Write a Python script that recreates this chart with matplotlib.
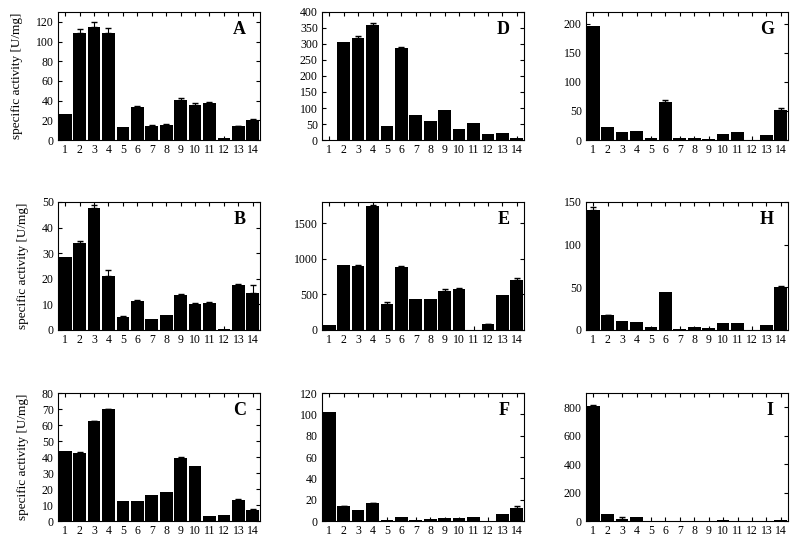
import numpy as np
import matplotlib
matplotlib.use("Agg")
import matplotlib.pyplot as plt

plt.rcParams["font.family"] = ["Liberation Serif", "DejaVu Serif"]

lanes = np.arange(1, 15)

# values (mean, error)
A = [26, 109, 115, 109, 13, 34, 14, 15.5, 41, 36, 38, 2, 14, 20]
A_err = [0, 4, 5, 5, 0, 1, 1, 0.5, 1.5, 1.5, 1, 0, 0.5, 1]
B = [28.5, 33.8, 47.5, 21, 5.2, 11.5, 4.4, 5.8, 13.6, 10.3, 10.5, 0.5, 17.6, 14.5]
B_err = [0, 1, 1.2, 2.5, 0.3, 0.3, 0, 0, 0.4, 0.4, 0.3, 0, 0.4, 3]
C = [44, 42.8, 62.3, 69.8, 12.8, 12.2, 16.5, 18, 39.2, 34.2, 3.3, 3.5, 13, 7]
C_err = [0, 0.4, 0.5, 0.5, 0, 0, 0, 0, 0.7, 0, 0, 0, 1, 0.5]
D = [1, 305, 318, 360, 45, 287, 78, 60, 93, 35, 52, 18, 22, 6]
D_err = [0, 0, 7, 5, 0, 4, 0, 0, 0, 0, 0, 0, 0, 0]
E = [75, 920, 900, 1750, 360, 880, 440, 440, 550, 570, 0, 80, 490, 700]
E_err = [0, 0, 15, 10, 30, 25, 0, 0, 20, 15, 0, 10, 0, 25]
F = [102.5, 14, 10.5, 16.5, 0.5, 4, 1, 2, 2.5, 2.5, 3.5, 0, 7, 12.5]
F_err = [0, 0.5, 0, 0.5, 0, 0, 0, 0, 0, 0, 0, 0, 0, 1.5]
G = [196, 23, 13, 16, 3, 66, 3, 3, 2, 10, 13, 0, 8, 51]
G_err = [0, 0, 0, 0, 0, 2, 0, 0, 0, 0, 0, 0, 0, 4]
H = [141, 17, 10, 9, 3, 44, 1.5, 3, 2.5, 8.5, 8, 0, 5.5, 50]
H_err = [3, 0.5, 0, 0, 0, 0, 0, 0, 0, 0, 0, 0, 0, 1]
I = [810, 48, 15, 25, 1, 1, 1, 1, 3, 4, 1, 1, 2, 10]
I_err = [8, 0, 12, 0, 0, 0, 0, 0, 0, 0, 0, 0, 0, 0]

panels = [
    ("A", A, A_err, 130, 20, 0, 0),
    ("B", B, B_err, 50, 10, 1, 0),
    ("C", C, C_err, 80, 10, 2, 0),
    ("D", D, D_err, 400, 50, 0, 1),
    ("E", E, E_err, 1800, 500, 1, 1),
    ("F", F, F_err, 120, 20, 2, 1),
    ("G", G, G_err, 220, 50, 0, 2),
    ("H", H, H_err, 150, 50, 1, 2),
    ("I", I, I_err, 900, 200, 2, 2),
]

W, Hpx = 800, 542
fig = plt.figure(figsize=(8, 5.42), dpi=100)

col_left = [58, 322, 586]
row_top = [12, 202, 393]
ax_w, ax_h = 202, 128

for label, vals, errs, ymax, step, row, col in panels:
    ax = fig.add_axes([col_left[col] / W, 1 - (row_top[row] + ax_h) / Hpx,
                       ax_w / W, ax_h / Hpx])
    ax.bar(lanes, vals, width=0.88, color="black")
    e = np.array(errs)
    m = e > 0
    # only the upper half of each error bar shows above the black bar
    ax.errorbar(lanes[m], np.array(vals)[m] + e[m] / 2, yerr=e[m] / 2,
                fmt="none", ecolor="black", elinewidth=0.8, capsize=2)
    ax.set_xlim(0.5, 14.5)
    ax.set_ylim(0, ymax)
    ax.set_xticks(lanes)
    ax.set_yticks(np.arange(0, ymax + 1, step))
    ax.tick_params(direction="in", top=True, right=True, labelsize=8.5,
                   length=3, width=0.8, pad=3)
    for s in ax.spines.values():
        s.set_linewidth(0.8)
    ax.text(0.93, 0.86, label, transform=ax.transAxes, ha="right", va="center",
            fontsize=13, fontweight="bold")
    if col == 0:
        ax.set_ylabel("specific activity [U/mg]", fontsize=9.5, labelpad=9)

fig.savefig("out.png", dpi=100)
